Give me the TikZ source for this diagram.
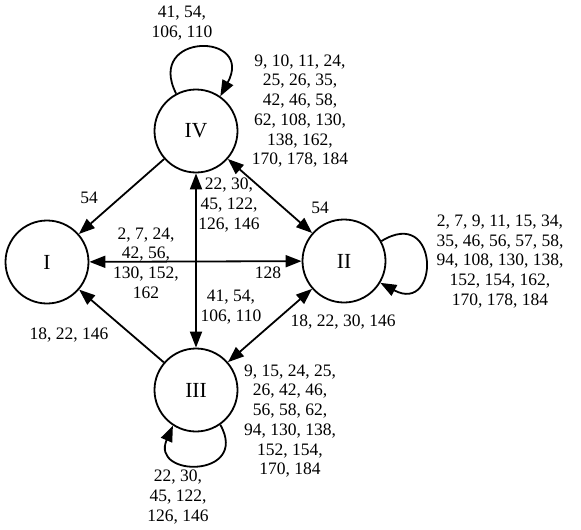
\documentclass[tikz,border=0pt]{standalone}
\usepackage{fontspec}
\setmainfont{Liberation Serif}
\usetikzlibrary{arrows.meta}
\begin{document}
\begin{tikzpicture}[x=1pt,y=-1pt,
  state/.style={circle, draw, line width=1.8pt, minimum size=83pt, inner sep=0pt, font=\fontsize{21.5}{24}\selectfont},
  lbl/.style={align=center, inner sep=0pt, font=\fontsize{17.5}{19.7}\selectfont},
  conn/.style={line width=1.8pt, -{Triangle[length=16pt,width=12pt]}},
  bconn/.style={line width=1.8pt, {Triangle[length=16pt,width=12pt]}-{Triangle[length=16pt,width=12pt]}}]
\fill[white] (0,0) rectangle (581,530);
\useasboundingbox (0,0) rectangle (581,530);
\node[state] (IV) at (196,131) {IV};
\node[state] (I) at (47,262) {I};
\node[state] (II) at (344,261) {II};
\node[state] (III) at (196,390) {III};
% edges
\draw[conn] (IV) -- (I);
\draw[bconn] (IV) -- (II);
\draw[bconn] (I) -- (II);
\draw[bconn] (IV) -- (III);
\draw[conn] (III) -- (I);
\draw[bconn] (II) -- (III);
% loops
\draw[conn] (IV.118) .. controls (145,32) and (255,32) .. (IV.55);
\draw[conn] (II.28) .. controls (440,205) and (440,315) .. (II.-31);
\draw[conn] (III.-55) .. controls (250,478) and (150,478) .. (III.-123);
% labels
\node[lbl] (l1) at (182,23) {41, 54,\\106, 110};
\node[lbl] (l2) at (300,111) {9, 10, 11, 24,\\25, 26, 35,\\42, 46, 58,\\62, 108, 130,\\138, 162,\\170, 178, 184};
\node[lbl] (l3) at (89,198) {54};
\node[lbl] (l4) at (320,208) {54};
\node[lbl] (l5) at (229,205) {22, 30,\\45, 122,\\126, 146};
\node[lbl] (l6) at (146,263) {2, 7, 24,\\42, 56,\\130, 152,\\162};
\node[lbl] (l7) at (268,273) {128};
\node[lbl] (l8) at (231,307) {41, 54,\\106, 110};
\node[lbl] (l9) at (69,335) {18, 22, 146};
\node[lbl] (l10) at (343,322) {18, 22, 30, 146};
\node[lbl] (l11) at (500,261.5) {2, 7, 9, 11, 15, 34,\\35, 46, 56, 57, 58,\\94, 108, 130, 138,\\152, 154, 162,\\170, 178, 184};
\node[lbl] (l12) at (290,421) {9, 15, 24, 25,\\26, 42, 46,\\56, 58, 62,\\94, 130, 138,\\152, 154,\\170, 184};
\node[lbl] (l13) at (178,497) {22, 30,\\45, 122,\\126, 146};
\end{tikzpicture}
\end{document}
